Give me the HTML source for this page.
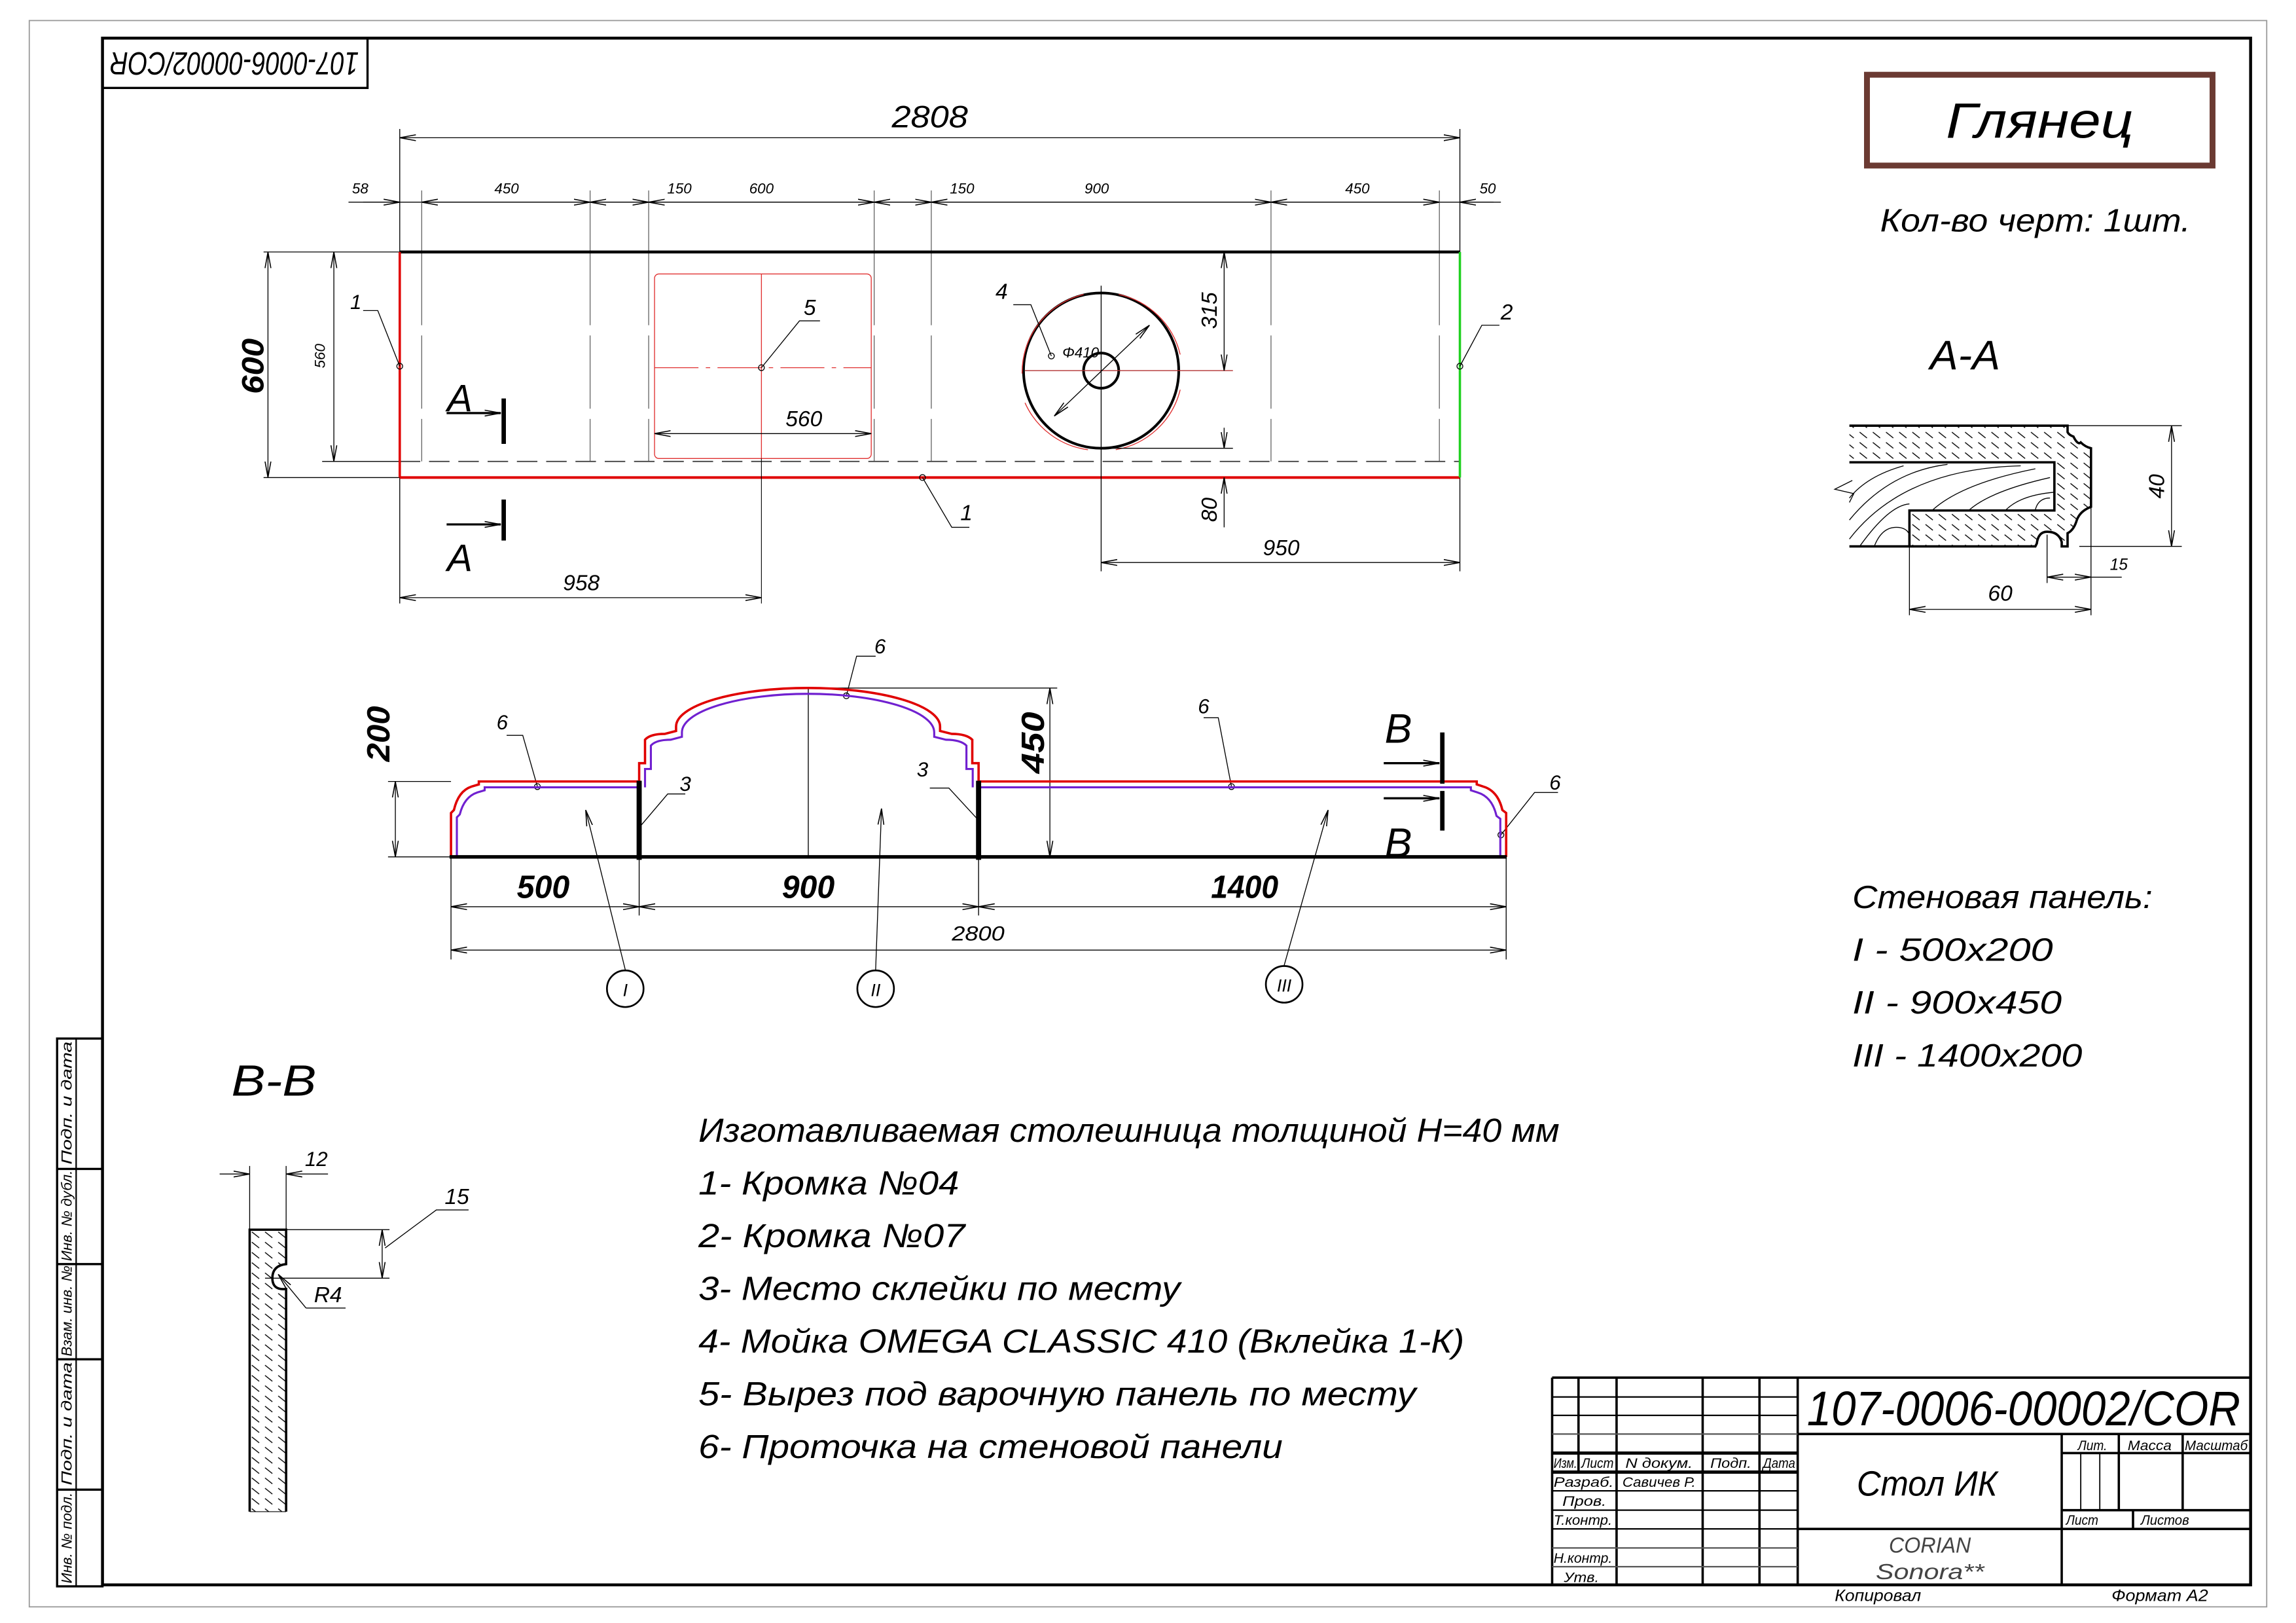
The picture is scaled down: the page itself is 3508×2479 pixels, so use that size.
<!DOCTYPE html>
<html><head><meta charset="utf-8"><style>
html,body{margin:0;padding:0;background:#fff}
svg{display:block}
text{font-family:"Liberation Sans","DejaVu Sans",sans-serif;font-style:italic;fill:#000}
</style></head><body>
<svg width="3508" height="2479" viewBox="0 0 1568 1108" xmlns="http://www.w3.org/2000/svg">
<defs>
<marker id="a" markerUnits="userSpaceOnUse" markerWidth="12" markerHeight="6" refX="11" refY="3" orient="auto-start-reverse"><path d="M0,1 L11,3 L0,5" fill="none" stroke="#000" stroke-width="0.7"/></marker>
<pattern id="h" patternUnits="userSpaceOnUse" width="9" height="7"><path d="M1,1 L6,5" stroke="#000" stroke-width="0.6"/></pattern>
</defs>
<rect width="1568" height="1108" fill="#fff"/>
<rect x="20" y="14" width="1528" height="1083" fill="none" stroke="#999" stroke-width="0.8"/>
<rect x="70" y="26" width="1467" height="1056" fill="none" stroke="#000" stroke-width="2"/>
<rect x="70" y="26" width="181" height="34" fill="none" stroke="#000" stroke-width="1.5"/>
<text transform="translate(160,43) rotate(180)" font-size="22" text-anchor="middle" dominant-baseline="central" textLength="170" lengthAdjust="spacingAndGlyphs">107-0006-00002/COR</text>
<g stroke="#000" stroke-width="1.5" fill="none">
<rect x="39" y="709" width="31" height="374"/>
<line x1="52" y1="709" x2="52" y2="1083" stroke-width="1"/>
<line x1="39" y1="798" x2="70" y2="798"/><line x1="39" y1="863" x2="70" y2="863"/><line x1="39" y1="928" x2="70" y2="928"/><line x1="39" y1="1017" x2="70" y2="1017"/>
</g>
<g font-size="10">
<text transform="translate(49,753) rotate(-90)" text-anchor="middle" textLength="84" lengthAdjust="spacingAndGlyphs">Подп. и дата</text>
<text transform="translate(49,830) rotate(-90)" text-anchor="middle" textLength="62" lengthAdjust="spacingAndGlyphs">Инв. № дубл.</text>
<text transform="translate(49,895) rotate(-90)" text-anchor="middle" textLength="62" lengthAdjust="spacingAndGlyphs">Взам. инв. №</text>
<text transform="translate(49,972) rotate(-90)" text-anchor="middle" textLength="84" lengthAdjust="spacingAndGlyphs">Подп. и дата</text>
<text transform="translate(49,1050) rotate(-90)" text-anchor="middle" textLength="62" lengthAdjust="spacingAndGlyphs">Инв. № подл.</text>
</g>

<g stroke="#000" stroke-width="0.6" fill="none">
<line x1="273" y1="88" x2="273" y2="412"/><line x1="997" y1="88" x2="997" y2="390"/>
<line x1="273" y1="94" x2="997" y2="94" marker-start="url(#a)" marker-end="url(#a)"/>
<line x1="238" y1="138" x2="1025" y2="138"/>
<g stroke="#666">
<line x1="288" y1="130" x2="288" y2="172"/><line x1="403" y1="130" x2="403" y2="172"/>
<line x1="443" y1="130" x2="443" y2="172"/><line x1="597" y1="130" x2="597" y2="172"/>
<line x1="636" y1="130" x2="636" y2="172"/><line x1="868" y1="130" x2="868" y2="172"/>
<line x1="983" y1="130" x2="983" y2="172"/>
<g stroke-dasharray="50,7">
<line x1="288" y1="172" x2="288" y2="315"/><line x1="403" y1="172" x2="403" y2="315"/>
<line x1="443" y1="172" x2="443" y2="315"/><line x1="597" y1="172" x2="597" y2="315"/>
<line x1="636" y1="172" x2="636" y2="315"/><line x1="868" y1="172" x2="868" y2="315"/>
<line x1="983" y1="172" x2="983" y2="315"/>
</g>
</g>
<line x1="248" y1="138" x2="273" y2="138" marker-end="url(#a)"/>
<line x1="288" y1="138" x2="403" y2="138" marker-start="url(#a)" marker-end="url(#a)"/>
<line x1="403" y1="138" x2="443" y2="138" marker-start="url(#a)" marker-end="url(#a)"/>
<line x1="443" y1="138" x2="597" y2="138" marker-start="url(#a)" marker-end="url(#a)"/>
<line x1="597" y1="138" x2="636" y2="138" marker-start="url(#a)" marker-end="url(#a)"/>
<line x1="636" y1="138" x2="868" y2="138" marker-start="url(#a)" marker-end="url(#a)"/>
<line x1="868" y1="138" x2="983" y2="138" marker-start="url(#a)" marker-end="url(#a)"/>
<line x1="1020" y1="138" x2="997" y2="138" marker-end="url(#a)"/>
<line x1="180" y1="172" x2="273" y2="172"/><line x1="180" y1="326" x2="273" y2="326"/>
<line x1="220" y1="315" x2="273" y2="315"/>
<line x1="183" y1="172" x2="183" y2="326" marker-start="url(#a)" marker-end="url(#a)"/>
<line x1="228" y1="172" x2="228" y2="315" marker-start="url(#a)" marker-end="url(#a)"/>
<line x1="273" y1="315" x2="997" y2="315" stroke="#444" stroke-width="0.8" stroke-dasharray="14,6"/>
</g>
<line x1="273" y1="172" x2="997" y2="172" stroke="#000" stroke-width="2"/>
<line x1="273" y1="172" x2="273" y2="326" stroke="#e00000" stroke-width="1.6"/>
<line x1="273" y1="326" x2="997" y2="326" stroke="#e00000" stroke-width="1.8"/>
<line x1="997" y1="172" x2="997" y2="326" stroke="#20d020" stroke-width="1.6"/>
<g stroke="#e03030" stroke-width="0.6" fill="none">
<rect x="447" y="187" width="148" height="126" rx="3"/>
<line x1="520" y1="187" x2="520" y2="313"/>
<line x1="447" y1="251" x2="595" y2="251" stroke-dasharray="30,5,3,5"/>
</g>
<line x1="520" y1="313" x2="520" y2="412" stroke="#000" stroke-width="0.5"/>
<line x1="447" y1="296" x2="595" y2="296" stroke="#000" stroke-width="0.6" marker-start="url(#a)" marker-end="url(#a)"/>
<circle cx="752" cy="253" r="53" fill="none" stroke="#000" stroke-width="1.8"/>
<circle cx="752" cy="253" r="12" fill="none" stroke="#000" stroke-width="1.8"/>
<path d="M764,201 A55,55 0 0 1 806,242 M806,266 A55,55 0 0 1 762,307 M698,255 A55,55 0 0 1 740,201 M743,307 A55,55 0 0 1 700,275" fill="none" stroke="#e03030" stroke-width="0.6"/>
<g stroke="#000" stroke-width="0.6" fill="none">
<line x1="700" y1="253" x2="842" y2="253" stroke="#b03030"/>
<line x1="752" y1="195" x2="752" y2="390"/>
<line x1="720" y1="284" x2="785" y2="222" marker-start="url(#a)" marker-end="url(#a)"/>
<line x1="757" y1="306" x2="842" y2="306"/>
<line x1="836" y1="172" x2="836" y2="253" marker-start="url(#a)" marker-end="url(#a)"/>
<line x1="836" y1="360" x2="836" y2="326" marker-end="url(#a)"/>
<line x1="836" y1="292" x2="836" y2="306" marker-end="url(#a)"/>
<line x1="752" y1="384" x2="997" y2="384" marker-start="url(#a)" marker-end="url(#a)"/>
<line x1="273" y1="408" x2="520" y2="408" marker-start="url(#a)" marker-end="url(#a)"/>
<circle cx="273" cy="250" r="2"/><polyline points="273,250 258,212 248,212"/>
<circle cx="520" cy="251" r="2"/><polyline points="520,251 546,219 560,219"/>
<circle cx="997" cy="250" r="2"/><polyline points="997,250 1012,222 1024,222"/>
<circle cx="630" cy="326" r="2"/><polyline points="630,326 650,360 662,360"/>
<circle cx="718" cy="243" r="2"/><polyline points="718,243 704,208 692,208"/>
</g>
<g font-size="13" text-anchor="middle">
<text x="635" y="87" font-size="21" textLength="52" lengthAdjust="spacingAndGlyphs">2808</text>
<text x="246" y="132" font-size="10">58</text><text x="346" y="132" font-size="10">450</text>
<text x="464" y="132" font-size="10">150</text><text x="520" y="132" font-size="10">600</text>
<text x="657" y="132" font-size="10">150</text><text x="749" y="132" font-size="10">900</text>
<text x="927" y="132" font-size="10">450</text><text x="1016" y="132" font-size="10">50</text>
<text transform="translate(180,250) rotate(-90)" font-size="21" font-weight="bold" textLength="38" lengthAdjust="spacingAndGlyphs">600</text>
<text transform="translate(222,243) rotate(-90)" font-size="10">560</text>
<text x="243" y="211" font-size="14">1</text>
<text x="553" y="215" font-size="15">5</text>
<text x="1029" y="218" font-size="15">2</text>
<text x="684" y="204" font-size="15">4</text>
<text x="660" y="355" font-size="15">1</text>
<text x="738" y="244" font-size="10">Φ410</text>
<text x="549" y="291" font-size="15">560</text>
<text transform="translate(831,212) rotate(-90)" font-size="15">315</text>
<text transform="translate(831,348) rotate(-90)" font-size="15">80</text>
<text x="875" y="379" font-size="15">950</text>
<text x="397" y="403" font-size="15">958</text>
<text x="314" y="281" font-size="26">A</text>
<text x="314" y="390" font-size="26">A</text>
</g>
<g stroke="#000" fill="none">
<line x1="305" y1="282" x2="342" y2="282" stroke-width="1.5" marker-end="url(#a)"/>
<line x1="344" y1="272" x2="344" y2="303" stroke-width="3"/>
<line x1="305" y1="358" x2="342" y2="358" stroke-width="1.5" marker-end="url(#a)"/>
<line x1="344" y1="341" x2="344" y2="369" stroke-width="3"/>
</g>

<rect x="1275" y="51" width="236" height="62" fill="none" stroke="#6b3a32" stroke-width="4"/>
<text x="1393" y="94" font-size="34" text-anchor="middle" textLength="128" lengthAdjust="spacingAndGlyphs">Глянец</text>
<text x="1390" y="158" font-size="22" text-anchor="middle" textLength="212" lengthAdjust="spacingAndGlyphs">Кол-во  черт:  1шт.</text>
<text x="1342" y="252" font-size="28" text-anchor="middle" textLength="48" lengthAdjust="spacingAndGlyphs">А-А</text>
<path d="M1263,290.6 H1412 V295 Q1413,297 1416,298 Q1419,304 1421,302 Q1424,305 1428,306 V346 Q1420,349 1418,356 Q1416,362 1412,364 V373 H1408 V370 Q1406,363 1398,363 Q1392,363 1391,371 L1390,373 H1304 V348.5 H1403 V315.6 H1263 Z" fill="url(#h)"/>
<g stroke="#000" stroke-width="0.6" fill="none">
<path d="M1263,368 Q1300,320 1380,318 M1263,355 Q1290,322 1330,317 M1270,373 Q1290,345 1304,344 M1280,373 Q1285,360 1295,360 Q1302,360 1304,365 M1320,348 Q1340,330 1390,320 M1345,348 Q1360,335 1400,326 M1370,348 Q1380,338 1403,336 M1390,348 Q1392,340 1400,340 M1263,340 Q1275,325 1300,318"/>
</g>
<path d="M1263,290.6 H1412 V295 Q1413,297 1416,298 Q1419,304 1421,302 Q1424,305 1428,306 V346 Q1420,349 1418,356 Q1416,362 1412,364 V373 H1408 V370 Q1406,363 1398,363 Q1392,363 1391,371 L1390,373 H1263" fill="none" stroke="#000" stroke-width="1.6"/>
<path d="M1263,315.6 H1403 V348.5 H1304 V373" fill="none" stroke="#000" stroke-width="1.6"/>
<polyline points="1265,328 1253,334 1266,337 1263,343" fill="none" stroke="#000" stroke-width="0.6"/>
<g stroke="#000" stroke-width="0.6" fill="none">
<line x1="1412" y1="290.6" x2="1490" y2="290.6"/><line x1="1420" y1="373" x2="1490" y2="373"/>
<line x1="1483" y1="290.6" x2="1483" y2="373" marker-start="url(#a)" marker-end="url(#a)"/>
<line x1="1398" y1="365" x2="1398" y2="398"/><line x1="1428" y1="346" x2="1428" y2="420"/>
<line x1="1304" y1="373" x2="1304" y2="420"/>
<line x1="1398" y1="394" x2="1428" y2="394" marker-start="url(#a)" marker-end="url(#a)"/>
<line x1="1428" y1="394" x2="1449" y2="394"/>
<line x1="1304" y1="416" x2="1428" y2="416" marker-start="url(#a)" marker-end="url(#a)"/>
</g>
<text transform="translate(1478,332) rotate(-90)" font-size="15" text-anchor="middle">40</text>
<text x="1447" y="389" font-size="11" text-anchor="middle">15</text>
<text x="1366" y="410" font-size="15" text-anchor="middle">60</text>

<g stroke="#000" stroke-width="0.6" fill="none">
<line x1="265" y1="533.5" x2="308" y2="533.5"/><line x1="265" y1="585" x2="308" y2="585"/>
<line x1="270" y1="533.5" x2="270" y2="585" marker-start="url(#a)" marker-end="url(#a)"/>
<line x1="552" y1="469.7" x2="722" y2="469.7"/>
<line x1="717" y1="469.7" x2="717" y2="585" marker-start="url(#a)" marker-end="url(#a)"/>
<line x1="552" y1="469.7" x2="552" y2="585"/>
<line x1="308" y1="585" x2="308" y2="655"/><line x1="1028.6" y1="585" x2="1028.6" y2="655"/>
<line x1="436.5" y1="585" x2="436.5" y2="625"/><line x1="668.3" y1="585" x2="668.3" y2="625"/>
<line x1="308" y1="619" x2="436.5" y2="619" marker-start="url(#a)" marker-end="url(#a)"/>
<line x1="436.5" y1="619" x2="668.3" y2="619" marker-start="url(#a)" marker-end="url(#a)"/>
<line x1="668.3" y1="619" x2="1028.6" y2="619" marker-start="url(#a)" marker-end="url(#a)"/>
<line x1="308" y1="648.6" x2="1028.6" y2="648.6" marker-start="url(#a)" marker-end="url(#a)"/>
<line x1="427" y1="662" x2="400" y2="553" marker-end="url(#a)"/>
<line x1="598" y1="662" x2="602" y2="552" marker-end="url(#a)"/>
<line x1="877" y1="659" x2="907" y2="553" marker-end="url(#a)"/>
<circle cx="427" cy="675" r="12.5" stroke-width="1.2"/>
<circle cx="598" cy="675" r="12.5" stroke-width="1.2"/>
<circle cx="877" cy="672" r="12.5" stroke-width="1.2"/>
<circle cx="367" cy="537" r="2"/><polyline points="367,537 357,502 346,502"/>
<circle cx="578" cy="475" r="2"/><polyline points="578,475 585,448 598,448"/>
<circle cx="841" cy="537" r="2"/><polyline points="841,537 832,490 822,490"/>
<circle cx="1025" cy="570" r="2"/><polyline points="1025,570 1048,541 1064,541"/>
<polyline points="436.5,565 456,542 468,542"/>
<polyline points="668.3,560 648,538 635,538"/>
</g>
<path d="M308,585 V555 L310,553 Q313,540 322,537 L327,535.5 V533.5 H436.5 V521 H440.5 V505 Q444,501 454,501 L461.7,499 V496 A90,26.3 0 0 1 642,496 V499 L650,501 Q660,501 664,505 V521 H668.3 V533.5 H1008.5 V535.5 L1013,537 Q1023,540 1026,553 L1028.6,555 V585" fill="none" stroke="#e00000" stroke-width="1.6"/>
<path d="M312,585 V558 L314,556 Q317,544 326,541 L331,539.5 V537.5 H436.5 M440.5,537.5 V525 H444.5 V509 Q448,505 458,505 L465.7,503 V500 A86,26.3 0 0 1 638,500 V503 L646,505 Q656,505 660,509 V525 H664.3 V537.5 M668.3,537.5 H1004.5 V539.5 L1009,541 Q1019,544 1022,557 L1024.6,559 V585" fill="none" stroke="#7020d0" stroke-width="1.4"/>
<line x1="307" y1="585" x2="1029" y2="585" stroke="#000" stroke-width="2.4"/>
<line x1="436.5" y1="533" x2="436.5" y2="587" stroke="#000" stroke-width="3.5"/>
<line x1="668.3" y1="533" x2="668.3" y2="587" stroke="#000" stroke-width="3.5"/>
<g stroke="#000" fill="none">
<line x1="945" y1="521" x2="983" y2="521" stroke-width="1.5" marker-end="url(#a)"/>
<line x1="985" y1="500" x2="985" y2="535" stroke-width="3"/>
<line x1="945" y1="545" x2="983" y2="545" stroke-width="1.5" marker-end="url(#a)"/>
<line x1="985" y1="540" x2="985" y2="567" stroke-width="3"/>
</g>
<g text-anchor="middle">
<text x="955" y="507" font-size="28">B</text>
<text x="955" y="585" font-size="28">B</text>
<text transform="translate(266,501) rotate(-90)" font-size="22" font-weight="bold" textLength="38" lengthAdjust="spacingAndGlyphs">200</text>
<text transform="translate(713,507) rotate(-90)" font-size="22" font-weight="bold" textLength="42" lengthAdjust="spacingAndGlyphs">450</text>
<text x="371" y="613" font-size="22" font-weight="bold" textLength="36" lengthAdjust="spacingAndGlyphs">500</text>
<text x="552" y="613" font-size="22" font-weight="bold" textLength="36" lengthAdjust="spacingAndGlyphs">900</text>
<text x="850" y="613" font-size="22" font-weight="bold" textLength="46" lengthAdjust="spacingAndGlyphs">1400</text>
<text x="668" y="642" font-size="14" textLength="36" lengthAdjust="spacingAndGlyphs">2800</text>
<text x="343" y="498" font-size="14">6</text>
<text x="601" y="446" font-size="14">6</text>
<text x="822" y="487" font-size="14">6</text>
<text x="1062" y="539" font-size="14">6</text>
<text x="468" y="540" font-size="14">3</text>
<text x="630" y="530" font-size="14">3</text>
<text x="427" y="680" font-size="12">I</text>
<text x="598" y="680" font-size="12">II</text>
<text x="877" y="677" font-size="12">III</text>
</g>

<text x="187" y="748" font-size="30" text-anchor="middle" textLength="58" lengthAdjust="spacingAndGlyphs">B-B</text>
<path d="M170.5,839.5 H195.4 V863 Q186,864 186,872.6 Q186,881 195.4,880 V1032 H170.5 Z" fill="url(#h)" stroke="none"/>
<path d="M170.5,1032 V839.5 H195.4 V863 Q186,864 186,872.6 Q186,881 195.4,880 V1032" fill="none" stroke="#000" stroke-width="1.6"/>
<line x1="170.5" y1="1032" x2="195.4" y2="1032" stroke="#000" stroke-width="0.5"/>
<g stroke="#000" stroke-width="0.6" fill="none">
<line x1="170.5" y1="796" x2="170.5" y2="839.5"/><line x1="195.4" y1="796" x2="195.4" y2="839.5"/>
<line x1="150" y1="801.5" x2="170.5" y2="801.5" marker-end="url(#a)"/>
<line x1="224" y1="801.5" x2="195.4" y2="801.5" marker-end="url(#a)"/>
<line x1="195.4" y1="839.5" x2="266" y2="839.5"/><line x1="181" y1="872.6" x2="266" y2="872.6"/>
<line x1="261" y1="839.5" x2="261" y2="872.6" marker-start="url(#a)" marker-end="url(#a)"/>
<polyline points="263,852 298,826 320,826"/>
<line x1="236" y1="893" x2="209" y2="893"/>
<line x1="209" y1="893" x2="190" y2="870" marker-end="url(#a)"/>
</g>
<text x="216" y="796" font-size="14" text-anchor="middle">12</text>
<text x="312" y="822" font-size="15" text-anchor="middle">15</text>
<text x="224" y="889" font-size="15" text-anchor="middle">R4</text>

<g font-size="23">
<text x="477" y="779.5" textLength="588" lengthAdjust="spacingAndGlyphs">Изготавливаемая  столешница  толщиной  Н=40  мм</text>
<text x="477" y="815.5" textLength="178" lengthAdjust="spacingAndGlyphs">1-  Кромка  №04</text>
<text x="477" y="851.5" textLength="182" lengthAdjust="spacingAndGlyphs">2-  Кромка  №07</text>
<text x="477" y="887.5" textLength="329" lengthAdjust="spacingAndGlyphs">3-  Место  склейки  по  месту</text>
<text x="477" y="923.5" textLength="523" lengthAdjust="spacingAndGlyphs">4-  Мойка  OMEGA  CLASSIC  410  (Вклейка  1-К)</text>
<text x="477" y="959.5" textLength="490" lengthAdjust="spacingAndGlyphs">5-  Вырез  под  варочную  панель  по  месту</text>
<text x="477" y="995.5" textLength="399" lengthAdjust="spacingAndGlyphs">6-  Проточка  на  стеновой  панели</text>
</g>
<g font-size="22">
<text x="1265" y="620" textLength="205" lengthAdjust="spacingAndGlyphs">Стеновая  панель:</text>
<text x="1265" y="656" textLength="137" lengthAdjust="spacingAndGlyphs">I  -  500x200</text>
<text x="1265" y="692" textLength="143" lengthAdjust="spacingAndGlyphs">II  -  900x450</text>
<text x="1265" y="728" textLength="157" lengthAdjust="spacingAndGlyphs">III  -  1400x200</text>
</g>

<g stroke="#000" stroke-width="1.6" fill="none">
<line x1="1060" y1="940.5" x2="1537" y2="940.5"/>
<line x1="1060" y1="940.5" x2="1060" y2="1082"/>
<line x1="1078" y1="940.5" x2="1078" y2="1005"/>
<line x1="1104" y1="940.5" x2="1104" y2="1082"/>
<line x1="1162.8" y1="940.5" x2="1162.8" y2="1082"/>
<line x1="1201.6" y1="940.5" x2="1201.6" y2="1082"/>
<line x1="1227.7" y1="940.5" x2="1227.7" y2="1082"/>
<line x1="1060" y1="992" x2="1227.7" y2="992" stroke-width="2.2"/>
<line x1="1060" y1="1005" x2="1227.7" y2="1005" stroke-width="2.2"/>
<g stroke-width="1">
<line x1="1060" y1="953.7" x2="1227.7" y2="953.7"/>
<line x1="1060" y1="966.3" x2="1227.7" y2="966.3"/>
<line x1="1060" y1="979" x2="1227.7" y2="979" stroke="#555"/>
<line x1="1060" y1="1017.8" x2="1227.7" y2="1017.8"/>
<line x1="1060" y1="1031" x2="1227.7" y2="1031"/>
<line x1="1060" y1="1043.8" x2="1227.7" y2="1043.8"/>
<line x1="1060" y1="1056.8" x2="1227.7" y2="1056.8" stroke="#555"/>
<line x1="1060" y1="1069.6" x2="1227.7" y2="1069.6" stroke="#555"/>
</g>
<line x1="1227.7" y1="979" x2="1537" y2="979"/>
<line x1="1408" y1="979" x2="1408" y2="1082"/>
<line x1="1227.7" y1="1043.8" x2="1537" y2="1043.8"/>
<line x1="1408" y1="992" x2="1537" y2="992"/>
<line x1="1408" y1="1031" x2="1537" y2="1031"/>
<line x1="1447" y1="979" x2="1447" y2="1031"/>
<line x1="1490.6" y1="979" x2="1490.6" y2="1031"/>
<line x1="1421" y1="992" x2="1421" y2="1031" stroke-width="0.8"/>
<line x1="1434" y1="992" x2="1434" y2="1031" stroke-width="0.8"/>
<line x1="1456.7" y1="1031" x2="1456.7" y2="1043.8"/>
</g>
<text x="1382" y="973" font-size="33" text-anchor="middle" textLength="296" lengthAdjust="spacingAndGlyphs">107-0006-00002/COR</text>
<text x="1316" y="1021" font-size="24" text-anchor="middle" textLength="96" lengthAdjust="spacingAndGlyphs">Стол  ИК</text>
<text x="1318" y="1060" font-size="15" text-anchor="middle" style="fill:#444" textLength="56" lengthAdjust="spacingAndGlyphs">CORIAN</text>
<text x="1318" y="1078" font-size="15" text-anchor="middle" style="fill:#444" textLength="74" lengthAdjust="spacingAndGlyphs">Sonora**</text>
<g font-size="9.5">
<text x="1061" y="1002" textLength="16" lengthAdjust="spacingAndGlyphs">Изм.</text>
<text x="1080" y="1002" textLength="22" lengthAdjust="spacingAndGlyphs">Лист</text>
<text x="1110" y="1002" textLength="46" lengthAdjust="spacingAndGlyphs">N  докум.</text>
<text x="1168" y="1002" textLength="28" lengthAdjust="spacingAndGlyphs">Подп.</text>
<text x="1204" y="1002" textLength="22" lengthAdjust="spacingAndGlyphs">Дата</text>
<text x="1061" y="1015" textLength="41" lengthAdjust="spacingAndGlyphs">Разраб.</text>
<text x="1108" y="1015" textLength="50" lengthAdjust="spacingAndGlyphs">Савичев Р.</text>
<text x="1067" y="1028" textLength="30" lengthAdjust="spacingAndGlyphs">Пров.</text>
<text x="1061" y="1041" textLength="40" lengthAdjust="spacingAndGlyphs">Т.контр.</text>
<text x="1061" y="1067" textLength="40" lengthAdjust="spacingAndGlyphs">Н.контр.</text>
<text x="1068" y="1080" textLength="24" lengthAdjust="spacingAndGlyphs">Утв.</text>
<text x="1419" y="990" textLength="20" lengthAdjust="spacingAndGlyphs">Лит.</text>
<text x="1453" y="990" textLength="30" lengthAdjust="spacingAndGlyphs">Масса</text>
<text x="1492" y="990" textLength="43" lengthAdjust="spacingAndGlyphs">Масштаб</text>
<text x="1411" y="1041" textLength="22" lengthAdjust="spacingAndGlyphs">Лист</text>
<text x="1462" y="1041" textLength="33" lengthAdjust="spacingAndGlyphs">Листов</text>
</g>
<text x="1253" y="1093" font-size="11" textLength="59" lengthAdjust="spacingAndGlyphs">Копировал</text>
<text x="1442" y="1093" font-size="11" textLength="66" lengthAdjust="spacingAndGlyphs">Формат  А2</text>
</svg>
</body></html>
